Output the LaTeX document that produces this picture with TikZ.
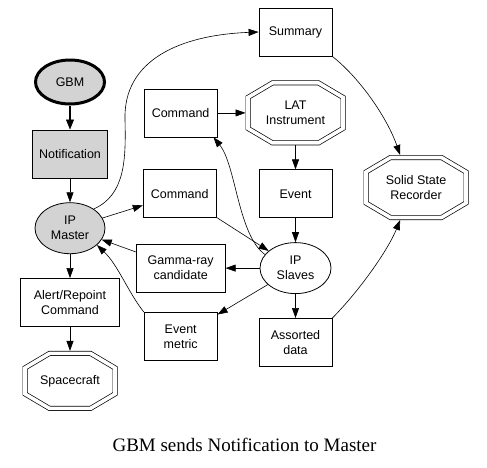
\documentclass[tikz,border=0pt]{standalone}
\usepackage{fontspec}
\setmainfont{Liberation Serif}
\setsansfont{Liberation Sans}
\usetikzlibrary{arrows.meta,positioning,shapes.geometric}
\definecolor{hostfill}{HTML}{D3D3D3}

\begin{document}
\begin{tikzpicture}[
  x=1pt, y=-1pt,
  node distance=24pt,
  every node/.style={font=\sffamily\fontsize{12.5}{15}\selectfont},
  frame/.style={draw, line width=0.8pt, minimum height=48pt, minimum width=73pt,
    align=center, inner sep=2pt},
  ipnode/.style={ellipse, draw, line width=0.8pt, minimum width=71pt,
    minimum height=51pt, align=center, inner sep=0pt},
  octo/.style={rectangle, align=center, inner sep=0pt, outer sep=0pt},
  rim/.style={draw, line width=0.7pt, double, double distance=3.6pt},
  flow/.style={-{Triangle[length=10pt, width=7pt, line width=0.6pt]}, line width=0.6pt}
]
  \useasboundingbox (0,0) rectangle (487,467);

  % left column: GBM down to the spacecraft
  \node[ipnode, fill=hostfill, line width=3pt, minimum width=69pt, minimum height=44pt]
    (gbm) at (70,82) {GBM};
  \node[frame, fill=hostfill, minimum width=75pt, below=of gbm] (notif) {Notification};
  \node[ipnode, fill=hostfill, minimum width=70pt, below=of notif] (master) {IP\\Master};
  \node[frame, minimum width=99pt, below=of master] (alert) {Alert/Repoint\\Command};
  \node[octo, minimum width=95pt, minimum height=60pt, below=of alert] (craft) {Spacecraft};

  % instrument column
  \node[frame] (summary) at (295.5,32) {Summary};
  \node[octo, minimum width=100pt, minimum height=65pt, below=of summary] (lat) {LAT\\Instrument};
  \node[frame, below=of lat] (event) {Event};
  \node[ipnode, below=of event] (slaves) {IP\\Slaves};
  \node[frame, below=of slaves] (assorted) {Assorted\\data};

  % products between the two processors
  \node[frame, left=28pt of lat] (cmdlat) {Command};
  \node[frame, left=42pt of event] (cmdip) {Command};
  \node[frame, minimum width=89pt, left=34pt of slaves] (gamma) {Gamma-ray\\candidate};
  \node[frame, left=41pt of assorted, yshift=6pt] (metric) {Event\\metric};

  \node[octo, minimum width=105pt, minimum height=65pt] (ssr) at (416,187.5)
    {Solid State\\Recorder};

  \node[font=\rmfamily\fontsize{19}{22}\selectfont, anchor=base] (caption) at (244.5,451)
    {GBM sends Notification to Master};

  % double octagons, drawn just inside each octo box
  \foreach \n in {craft, lat, ssr}
    \draw[rim] ([shift={(27,2.5)}]\n.north west) -- ([shift={(-27,2.5)}]\n.north east)
      -- ([shift={(-2.5,17)}]\n.north east) -- ([shift={(-2.5,-17)}]\n.south east)
      -- ([shift={(-27,-2.5)}]\n.south east) -- ([shift={(27,-2.5)}]\n.south west)
      -- ([shift={(2.5,-17)}]\n.south west) -- ([shift={(2.5,17)}]\n.north west) -- cycle;

  \draw[-{Triangle[length=10pt, width=8pt, line width=0.6pt]}, line width=2.5pt] (gbm) -- (notif);
  \draw[flow] (notif) -- (master);
  \draw[flow] (master) -- (alert);
  \draw[flow] (alert) -- (craft);
  \draw[flow] (master) -- (cmdip);
  \draw[flow] (cmdlat) -- (lat);
  \draw[flow] (lat) -- (event);
  \draw[flow] (event) -- (slaves);
  \draw[flow] (cmdip) -- (slaves);
  \draw[flow] (slaves) -- (gamma);
  \draw[flow] (gamma) -- (master);
  \draw[flow] (slaves) -- (metric);
  \draw[flow] (slaves) -- (assorted);

  % curved connectors
  \draw[flow] (master.39) .. controls (125,195) and (126,160) .. (125,120)
    .. controls (123,60) and (180,35) .. (summary.west);
  \draw[flow] (summary.south east) .. controls (362,80) and (388,120) .. (ssr.116);
  \draw[flow] (assorted.north east) .. controls (360,290) and (388,250) .. (ssr.244);
  \draw[flow] (metric.north west) .. controls (128,292) and (118,265) .. (master.-32);
  \draw[flow] (slaves.156) .. controls (238,235) and (236,165) .. ([xshift=-4pt]cmdlat.south east);
\end{tikzpicture}
\end{document}
